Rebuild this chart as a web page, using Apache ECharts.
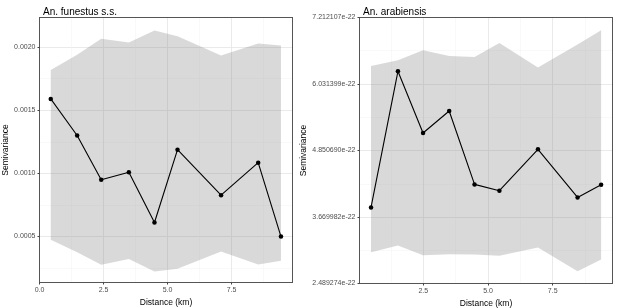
<!DOCTYPE html>
<html>
<head>
<meta charset="utf-8">
<script src="https://cdn.jsdelivr.net/npm/echarts@6/dist/echarts.min.js"></script>
<style>
  html, body { margin: 0; padding: 0; background: #fff; }
  #chart { width: 617px; height: 308px; }
</style>
</head>
<body>
<div id="chart"></div>
<script>
// An. funestus s.s. (left panel)
const funDist = [0.44, 1.47, 2.41, 3.49, 4.49, 5.39, 7.09, 8.54, 9.43];
const funSemi = [0.00159, 0.00130, 0.00095, 0.00101, 0.000611, 0.001188, 0.000828, 0.001085, 0.00050];
const funLow = [0.000474, 0.000376, 0.000276, 0.000323, 0.000223, 0.000244, 0.000381, 0.000278, 0.000308];
const funHigh = [0.00182, 0.00194, 0.002066, 0.002037, 0.002132, 0.002087, 0.001934, 0.00203, 0.002013];
const funXTicks = [0, 2.5, 5, 7.5];
const funXMinor = [1.25, 3.75, 6.25, 8.75];
const funYTicks = [0.0005, 0.0010, 0.0015, 0.0020];
const funYMinor = [0.00025, 0.00075, 0.00125, 0.00175];

// An. arabiensis (right panel)
const araDist = [0.48, 1.52, 2.49, 3.50, 4.48, 5.44, 6.93, 8.46, 9.37];
const araSemi = [3.840e-22, 6.257e-22, 5.161e-22, 5.552e-22, 4.249e-22, 4.137e-22, 4.871e-22, 4.018e-22, 4.243e-22];
const araLow = [3.046e-22, 3.165e-22, 2.992e-22, 3.010e-22, 3.005e-22, 2.982e-22, 3.129e-22, 2.708e-22, 2.916e-22];
const araHigh = [6.351e-22, 6.453e-22, 6.631e-22, 6.529e-22, 6.511e-22, 6.760e-22, 6.323e-22, 6.732e-22, 6.986e-22];
const araXTicks = [2.5, 5, 7.5];
const araXMinor = [1.25, 3.75, 6.25, 8.75];
const araYTicks = [2.489274e-22, 3.669982e-22, 4.850690e-22, 6.031399e-22, 7.212107e-22];
const araYMinor = [3.079628e-22, 4.260336e-22, 5.441045e-22, 6.621753e-22];

const font = "'Liberation Sans', Arial, sans-serif";
const ribbonColor = "rgba(128,128,128,0.30)";

const chart = echarts.init(document.getElementById("chart"), null, { renderer: "canvas" });

// major axis: ticks, labels and grid lines at the given values
function majorAxis(gridIndex, position, min, max, ticks, fmt, name, nameGap) {
  return {
    type: "value", gridIndex, position, min, max,
    name, nameLocation: "middle", nameGap,
    nameTextStyle: { fontFamily: font, fontSize: 8.5, color: "#000" },
    axisLine: { show: true, onZero: false, lineStyle: { color: "#555", width: 1 } },
    axisTick: { show: true, length: 2, customValues: ticks, lineStyle: { color: "#444", width: 1 } },
    axisLabel: { customValues: ticks, formatter: fmt, margin: 4, fontFamily: font, fontSize: 7, color: "#4d4d4d" },
    splitLine: { show: true, lineStyle: { color: "#e8e8e8", width: 0.9 } },
  };
}

// minor grid lines, plus the top/right edge of the panel box
function minorAxis(gridIndex, position, min, max, ticks) {
  return {
    type: "value", gridIndex, position, min, max,
    axisLine: { show: true, onZero: false, lineStyle: { color: "#555", width: 1 } },
    axisTick: { show: false, customValues: ticks },
    axisLabel: { show: false, customValues: ticks },
    splitLine: { show: true, lineStyle: { color: "#f2f2f2", width: 0.5 } },
  };
}

function ribbon(xIdx, yIdx, dist, low, high) {
  return {
    type: "custom", xAxisIndex: xIdx, yAxisIndex: yIdx, silent: true, z: 1,
    encode: { x: 0, y: [1, 2] },
    data: dist.map((d, i) => [d, low[i], high[i]]),
    renderItem: (params, api) => {
      if (params.dataIndex !== 0) return null;
      const top = dist.map((d, i) => api.coord([d, high[i]]));
      const bottom = dist.map((d, i) => api.coord([d, low[i]])).reverse();
      return { type: "polygon", shape: { points: top.concat(bottom) }, style: { fill: ribbonColor } };
    },
  };
}

function semiLine(xIdx, yIdx, dist, semi) {
  return {
    type: "line", xAxisIndex: xIdx, yAxisIndex: yIdx, z: 3,
    data: dist.map((d, i) => [d, semi[i]]),
    symbol: "circle", symbolSize: 4.5,
    itemStyle: { color: "#000" },
    lineStyle: { color: "#000", width: 1.1 },
    animation: false,
  };
}

const fmt1 = (v) => v.toFixed(1);

const option = {
  backgroundColor: "#fff",
  animation: false,
  title: [
    { text: "An. funestus s.s.", left: 38, top: 2, textStyle: { fontFamily: font, fontSize: 10, fontWeight: "normal", color: "#000" } },
    { text: "An. arabiensis", left: 358, top: 2, textStyle: { fontFamily: font, fontSize: 10, fontWeight: "normal", color: "#000" } },
  ],
  grid: [
    { left: 39.5, top: 17.5, width: 253, height: 265, outerBoundsMode: "none" },
    { left: 359.5, top: 17.5, width: 253, height: 266, outerBoundsMode: "none" },
  ],
  xAxis: [
    minorAxis(0, "top", 0, 9.88, funXMinor),
    majorAxis(0, "bottom", 0, 9.88, funXTicks, fmt1, "Distance (km)", 5),
    minorAxis(1, "top", 0.035, 9.81, araXMinor),
    majorAxis(1, "bottom", 0.035, 9.81, araXTicks, fmt1, "Distance (km)", 5),
  ],
  yAxis: [
    minorAxis(0, "right", 0.000136, 0.002235, funYMinor),
    majorAxis(0, "left", 0.000136, 0.002235, funYTicks, (v) => v.toFixed(4), "Semivariance", 27),
    minorAxis(1, "right", 2.489274e-22, 7.212107e-22, araYMinor),
    majorAxis(1, "left", 2.489274e-22, 7.212107e-22, araYTicks, (v) => v.toExponential(6), "Semivariance", 49),
  ],
  series: [
    ribbon(1, 1, funDist, funLow, funHigh),
    semiLine(1, 1, funDist, funSemi),
    ribbon(3, 3, araDist, araLow, araHigh),
    semiLine(3, 3, araDist, araSemi),
  ],
};

chart.setOption(option);
</script>
</body>
</html>
